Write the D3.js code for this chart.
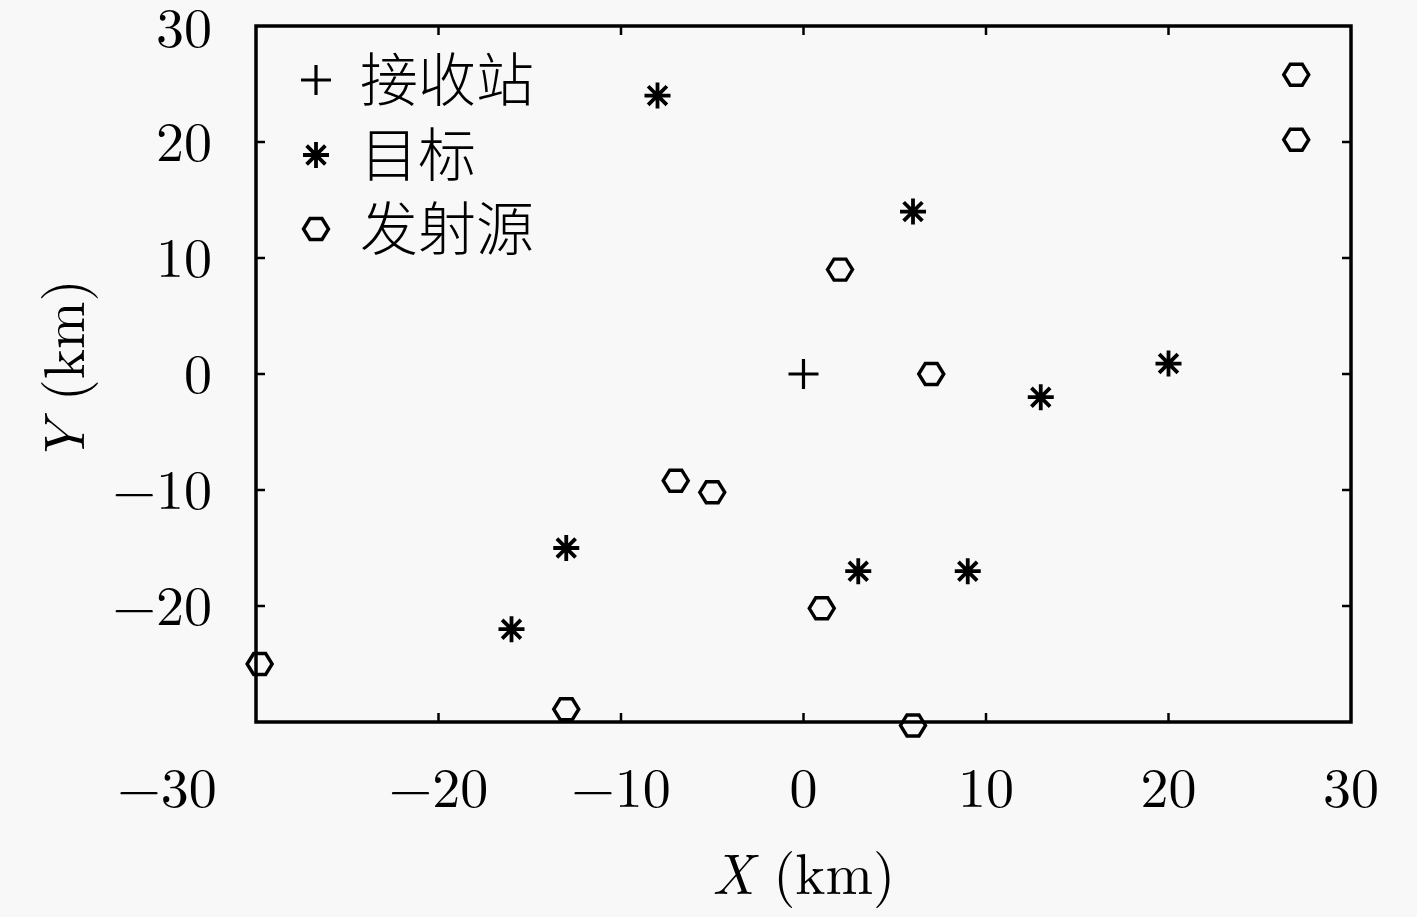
<!DOCTYPE html>
<html><head><meta charset="utf-8">
<script src="https://cdn.jsdelivr.net/npm/d3@7/dist/d3.min.js"></script>
<style>html,body{margin:0;padding:0;background:#f8f8f8;}</style>
</head><body>
<svg id="c" width="1417" height="917"></svg>
<script>
const receiverX = [0];
const receiverY = [0];
const targetX = [-8, 6, 13, 20, -13, -16, 3, 9];
const targetY = [24, 14, -2, 0.9, -15, -22, -17, -17];
const emitterX = [27, 27, 2, 7, -7, -5, 1, -29.8, -13, 6];
const emitterY = [25.8, 20.2, 9, 0, -9.2, -10.2, -20.2, -25, -28.9, -30.3];
const xTicks = [-20, -10, 0, 10, 20, 30];
const yTicks = [30, 20, 10, 0, -10, -20];
const legendLabels = ["接收站", "目标", "发射源"];

const svg = d3.select("#c");
const W = 1417, H = 917;
svg.append("rect").attr("width", W).attr("height", H).attr("fill", "#f8f8f8");
const L = 256, R = 1351, T = 26, B = 722;
const x = d3.scaleLinear().domain([-30, 30]).range([L, R]);
const y = d3.scaleLinear().domain([-30, 30]).range([B, T]);
const serif = "'Latin Modern Roman','Liberation Serif','DejaVu Serif',serif";
const cjk = "'Noto Sans CJK SC','Noto Sans CJK JP',sans-serif";

// ticks (inside, all four sides)
const tl = 9;
const g = svg.append("g").attr("stroke", "#000").attr("stroke-width", 2.5);
xTicks.filter(v => v < 30).forEach(v => {
  g.append("line").attr("x1", x(v)).attr("x2", x(v)).attr("y1", B).attr("y2", B - tl);
  g.append("line").attr("x1", x(v)).attr("x2", x(v)).attr("y1", T).attr("y2", T + tl);
});
yTicks.filter(v => v < 30).forEach(v => {
  g.append("line").attr("y1", y(v)).attr("y2", y(v)).attr("x1", L).attr("x2", L + tl);
  g.append("line").attr("y1", y(v)).attr("y2", y(v)).attr("x1", R).attr("x2", R - tl);
});
// frame
svg.append("rect").attr("x", L).attr("y", T).attr("width", R - L).attr("height", B - T)
  .attr("fill", "none").attr("stroke", "#000").attr("stroke-width", 3.5);

// tick labels
const fs = 56;
const fmt = v => (v < 0 ? "\u2212" : "") + Math.abs(v);
xTicks.forEach(v => {
  svg.append("text").attr("x", x(v)).attr("y", 807).attr("text-anchor", "middle")
    .attr("font-family", serif).attr("font-size", fs).text(fmt(v));
});
svg.append("text").attr("x", 167).attr("y", 807).attr("text-anchor", "middle")
  .attr("font-family", serif).attr("font-size", fs).text(fmt(-30));
yTicks.forEach(v => {
  svg.append("text").attr("x", 212).attr("y", y(v) + (v === 30 ? 2 : 0)).attr("dy", "0.34em").attr("text-anchor", "end")
    .attr("font-family", serif).attr("font-size", fs).text(fmt(v));
});

// axis labels
const xl = svg.append("text").attr("x", x(0)).attr("y", 894).attr("text-anchor", "middle")
  .attr("font-family", serif).attr("font-size", 57);
xl.append("tspan").attr("font-style", "italic").text("X");
xl.append("tspan").text(" (km)");
const yl = svg.append("text").attr("transform", `translate(84,${y(0) - 3}) rotate(-90)`).attr("text-anchor", "middle")
  .attr("font-family", serif).attr("font-size", 57);
yl.append("tspan").attr("font-style", "italic").text("Y");
yl.append("tspan").text(" (km)");

// marker shapes
function plus(sel, cx, cy) {
  const s = 15;
  sel.append("path").attr("d", `M${cx - s},${cy}H${cx + s}M${cx},${cy - s}V${cy + s}`)
    .attr("stroke", "#000").attr("stroke-width", 3.2).attr("fill", "none");
}
function star(sel, cx, cy) {
  const s = 13, d = s * 0.72;
  sel.append("path").attr("d",
    `M${cx - s},${cy}H${cx + s}M${cx},${cy - s}V${cy + s}M${cx - d},${cy - d}L${cx + d},${cy + d}M${cx - d},${cy + d}L${cx + d},${cy - d}`)
    .attr("stroke", "#000").attr("stroke-width", 3.8).attr("fill", "none");
}
function hex(sel, cx, cy) {
  const rx = 12.5, ry = 10.5, hx = 6;
  sel.append("path").attr("d",
    `M${cx - rx},${cy}L${cx - hx},${cy - ry}H${cx + hx}L${cx + rx},${cy}L${cx + hx},${cy + ry}H${cx - hx}Z`)
    .attr("stroke", "#000").attr("stroke-width", 3.4).attr("fill", "none");
}

const marks = svg.append("g");
receiverX.forEach((v, i) => plus(marks, x(v), y(receiverY[i])));
targetX.forEach((v, i) => star(marks, x(v), y(targetY[i])));
emitterX.forEach((v, i) => hex(marks, x(v), y(emitterY[i])));

// legend
const lg = svg.append("g");
const ly = [80, 155, 229];
const shapes = [plus, star, hex];
legendLabels.forEach((t, i) => {
  shapes[i](lg, 316, ly[i]);
  lg.append("text").attr("x", 360).attr("y", ly[i]).attr("dy", "0.36em")
    .attr("font-family", cjk).attr("font-size", 58).attr("font-weight", 300).text(t);
});
</script>
</body></html>
